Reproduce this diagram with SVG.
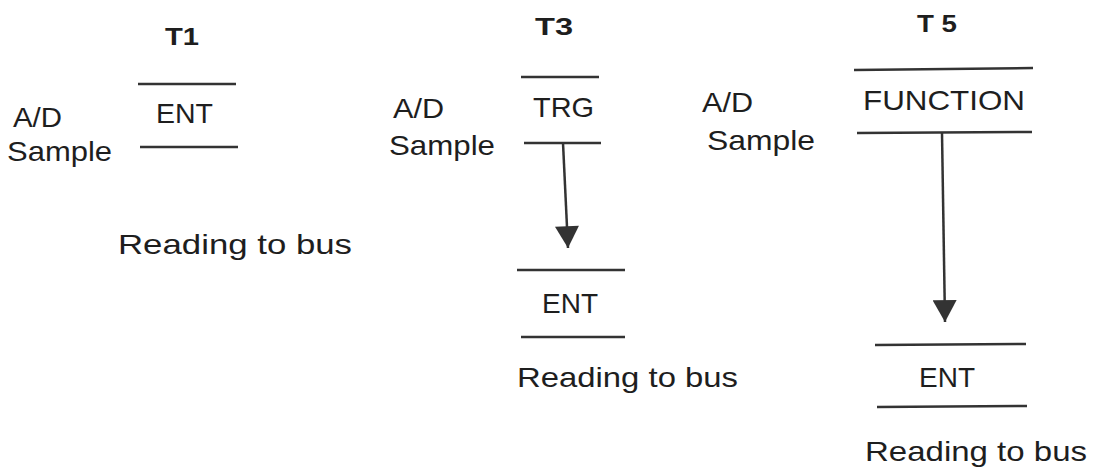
<svg xmlns="http://www.w3.org/2000/svg" width="1100" height="471" viewBox="0 0 1100 471">
<style>
text{font-family:"Liberation Sans",Arial,sans-serif;fill:#1e1e1e;font-size:28px}
.t{font-weight:bold;font-size:24px}
.b{stroke:#333;stroke-width:2.5;fill:none}
.c{stroke:#333;stroke-width:2.5;fill:none}
</style>
<defs>
<marker id="ah" markerUnits="userSpaceOnUse" markerWidth="24" markerHeight="24" viewBox="0 0 20 22" refX="20" refY="11" orient="auto">
<path d="M0,0 L20,11 L0,22 Z" fill="#333"/>
</marker>
</defs>
<rect width="1100" height="471" fill="#fff"/>
<g id="T1">
<text class="t" x="165" y="45" textLength="34" lengthAdjust="spacingAndGlyphs">T1</text>
<text x="13" y="127" textLength="49" lengthAdjust="spacingAndGlyphs">A/D</text>
<text x="7" y="161" textLength="105" lengthAdjust="spacingAndGlyphs">Sample</text>
<line class="b" x1="138" y1="84" x2="236" y2="84"/>
<text x="156" y="123" textLength="57" lengthAdjust="spacingAndGlyphs">ENT</text>
<line class="b" x1="140" y1="147" x2="238" y2="147"/>
<text x="118" y="254" textLength="234" lengthAdjust="spacingAndGlyphs">Reading to bus</text>
</g>
<g id="T3">
<text class="t" x="535" y="35" textLength="38" lengthAdjust="spacingAndGlyphs">T3</text>
<text x="393" y="118" textLength="51" lengthAdjust="spacingAndGlyphs">A/D</text>
<text x="389" y="155" textLength="106" lengthAdjust="spacingAndGlyphs">Sample</text>
<line class="b" x1="521" y1="77" x2="599" y2="77"/>
<text x="533" y="117" textLength="61" lengthAdjust="spacingAndGlyphs">TRG</text>
<line class="b" x1="524" y1="143" x2="601" y2="143"/>
</g>
<g id="T3_ENT">
<line class="b" x1="517" y1="270" x2="625" y2="270"/>
<text x="542" y="313" textLength="56" lengthAdjust="spacingAndGlyphs">ENT</text>
<line class="b" x1="521" y1="337" x2="625" y2="337"/>
<text x="517" y="387" textLength="221" lengthAdjust="spacingAndGlyphs">Reading to bus</text>
</g>
<g id="T5">
<text class="t" x="917" y="32" textLength="40" lengthAdjust="spacingAndGlyphs">T 5</text>
<text x="702" y="112" textLength="51" lengthAdjust="spacingAndGlyphs">A/D</text>
<text x="707" y="150" textLength="108" lengthAdjust="spacingAndGlyphs">Sample</text>
<line class="b" x1="854" y1="70" x2="1033" y2="68"/>
<text x="863" y="110" textLength="162" lengthAdjust="spacingAndGlyphs">FUNCTION</text>
<line class="b" x1="857" y1="133" x2="1032" y2="132"/>
</g>
<g id="T5_ENT">
<line class="b" x1="875" y1="345" x2="1026" y2="344"/>
<text x="919" y="387" textLength="56" lengthAdjust="spacingAndGlyphs">ENT</text>
<line class="b" x1="877" y1="407" x2="1027" y2="406"/>
<text x="865" y="461" textLength="222" lengthAdjust="spacingAndGlyphs">Reading to bus</text>
</g>
<g id="connectors">
<line class="c" x1="563" y1="143" x2="568" y2="248" marker-end="url(#ah)"/>
<line class="c" x1="942" y1="133" x2="945" y2="322" marker-end="url(#ah)"/>
</g>
</svg>
